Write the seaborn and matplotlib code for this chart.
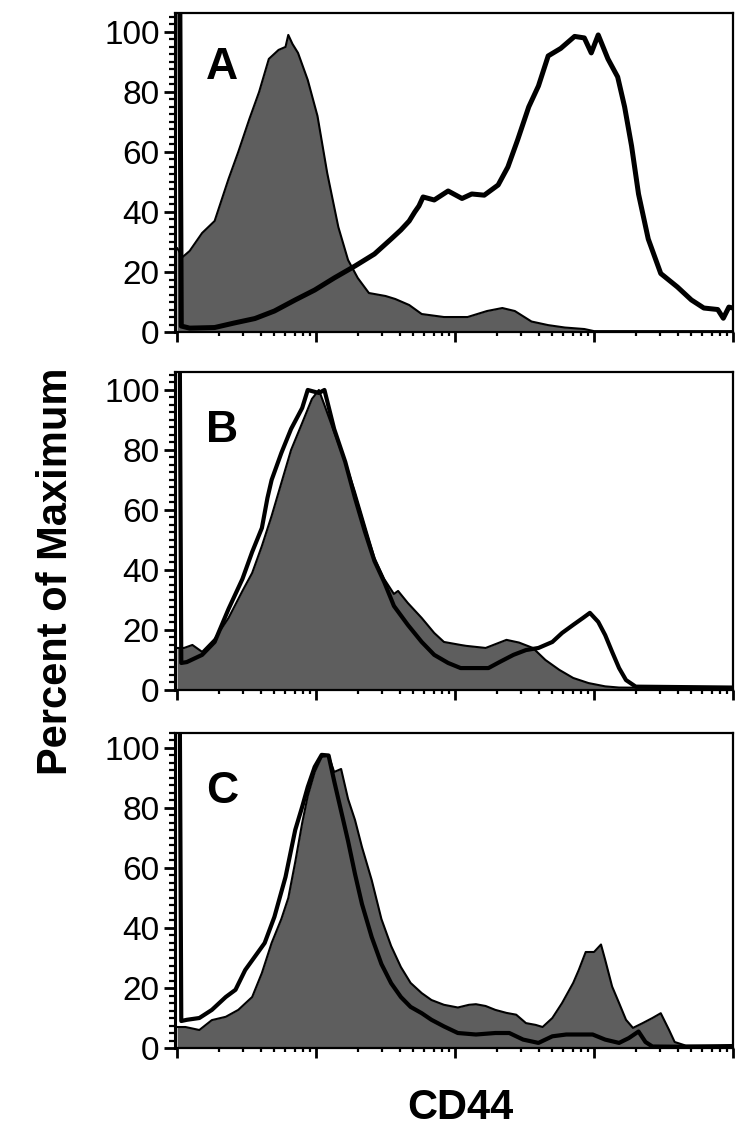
import matplotlib
matplotlib.use('Agg')
from matplotlib import pyplot as plt
from matplotlib.ticker import LogLocator, NullFormatter, MultipleLocator
import numpy as np
import seaborn as sns

# ----- data (x in log10 decades, y in % of max) -----

# panel A
a_fill_pos = [0.00, 0.04, 0.09, 0.18, 0.27, 0.32, 0.37, 0.44, 0.52, 0.59, 0.66, 0.73, 0.78, 0.80, 0.83, 0.87,
              0.94, 1.01, 1.08, 1.16, 1.23, 1.30, 1.38, 1.50, 1.57, 1.67, 1.76, 1.92, 2.09, 2.23, 2.34, 2.43,
              2.55, 2.67, 2.79, 2.93, 3.00, 4.00]
a_fill_val = [28, 25, 27, 33, 37, 44, 51, 60, 71, 80, 91, 94, 95, 99, 96, 93,
              84, 72, 53, 35, 24, 18, 13, 12, 11, 9, 6, 5, 5, 7, 8, 7,
              3.5, 2.3, 1.5, 1, 0.3, 0.3]
a_line_pos = [0.02, 0.03, 0.09, 0.27, 0.41, 0.56, 0.70, 0.85, 0.99, 1.13, 1.28, 1.42, 1.54, 1.61, 1.67, 1.71,
              1.74, 1.77, 1.85, 1.95, 2.05, 2.12, 2.21, 2.31, 2.38, 2.45, 2.53, 2.60, 2.67, 2.76, 2.86, 2.93,
              2.98, 3.03, 3.10, 3.17, 3.22, 3.27, 3.32, 3.39, 3.48, 3.60, 3.70, 3.79, 3.89, 3.93, 3.97, 4.00]
a_line_val = [106, 2, 1.3, 1.5, 3, 4.5, 7, 10.7, 14, 18, 22, 26, 31, 34, 37, 40,
              42, 45, 44, 47, 44.5, 46, 45.6, 49, 55, 64, 75, 82, 92, 94.5, 98.5, 98,
              93, 99, 91, 85, 75, 62, 46, 31, 19.5, 15, 10.7, 8, 7.5, 4.6, 8.3, 8]

# panel B
b_fill_pos = [0.00, 0.05, 0.11, 0.18, 0.27, 0.37, 0.47, 0.54, 0.61, 0.68, 0.75, 0.82, 0.90, 0.97, 1.02, 1.06,
              1.13, 1.21, 1.28, 1.35, 1.42, 1.49, 1.56, 1.59, 1.66, 1.76, 1.85, 1.92, 2.04, 2.08, 2.22, 2.37,
              2.46, 2.56, 2.65, 2.75, 2.85, 2.96, 3.08, 3.18, 4.00]
b_fill_val = [14, 14, 15, 12.7, 17, 24, 33, 39, 48, 58, 69, 80, 89, 97, 100, 95,
              86, 76, 66, 55, 44, 37, 32, 33, 29, 24, 19, 16, 15, 14.7, 14, 16.7,
              15.8, 14, 10, 6.7, 4, 2.3, 1.2, 0.8, 0.5]
b_line_pos = [0.02, 0.03, 0.07, 0.18, 0.27, 0.37, 0.47, 0.54, 0.61, 0.65, 0.68, 0.75, 0.82, 0.90, 0.94, 1.02,
              1.06, 1.13, 1.21, 1.28, 1.35, 1.42, 1.49, 1.56, 1.66, 1.76, 1.85, 1.95, 2.04, 2.15, 2.24, 2.32,
              2.42, 2.51, 2.60, 2.70, 2.77, 2.85, 2.92, 2.97, 3.03, 3.08, 3.13, 3.18, 3.23, 3.30, 4.00]
b_line_val = [106, 9, 9.3, 11.7, 16, 27, 37, 46, 54, 64, 70, 79, 87, 94, 100, 99,
              100, 87, 76, 64, 53, 43, 36, 28, 21.7, 16, 11.7, 9, 7.3, 7.3, 7.3, 9.3,
              11.7, 13.3, 14, 16, 19, 21.7, 24, 25.7, 22.7, 18.3, 12.7, 7.3, 3.3, 1.1, 0.8]

# panel C
c_fill_pos = [0.00, 0.06, 0.16, 0.25, 0.35, 0.44, 0.54, 0.61, 0.68, 0.75, 0.80, 0.85, 0.90, 0.94, 0.99, 1.04,
              1.09, 1.13, 1.18, 1.23, 1.28, 1.33, 1.40, 1.47, 1.54, 1.61, 1.68, 1.76, 1.83, 1.92, 2.02, 2.10,
              2.15, 2.22, 2.29, 2.37, 2.44, 2.51, 2.58, 2.63, 2.70, 2.77, 2.85, 2.89, 2.94, 3.00, 3.05, 3.08,
              3.13, 3.18, 3.23, 3.28, 3.35, 3.42, 3.48, 3.54, 3.58, 3.66, 4.00]
c_fill_val = [7, 7, 6, 9.3, 10.4, 12.7, 17, 25, 35, 43, 50, 62, 75, 84, 92, 97,
              97.5, 92, 93, 83, 76, 67, 56, 43, 34, 27, 21.7, 18.3, 16, 14.4, 13.5, 14.4,
              14.6, 14, 12.7, 11.7, 11.1, 8.3, 7.7, 7, 10, 15, 21.7, 26, 32, 32, 34.5, 29.4,
              20.5, 15, 9.4, 6.7, 8.3, 10, 11.6, 6, 2, 0.8, 1]
c_line_pos = [0.02, 0.03, 0.07, 0.16, 0.25, 0.35, 0.42, 0.49, 0.56, 0.63, 0.70, 0.78, 0.85, 0.90, 0.94, 0.99,
              1.04, 1.09, 1.13, 1.18, 1.23, 1.28, 1.33, 1.40, 1.47, 1.54, 1.61, 1.68, 1.76, 1.83, 1.92, 2.02,
              2.15, 2.29, 2.39, 2.49, 2.60, 2.70, 2.80, 2.89, 2.99, 3.08, 3.18, 3.25, 3.32, 3.37, 3.42, 4.00]
c_line_val = [106, 9, 9.4, 10, 12.7, 17, 19.4, 26, 30.5, 35, 43.7, 57, 72.7, 80.4, 87, 93.7,
              97.7, 97.5, 89, 79, 69, 58, 48, 37, 28, 21.6, 17, 13.7, 11.6, 9.4, 7.2, 5,
              4.5, 5, 5, 2.8, 1.7, 3.9, 4.5, 4.5, 4.5, 2.8, 1.7, 3.3, 5.5, 2, 0.5, 0.3]

panel_letters = ['A', 'B', 'C']
y_ticks = [0, 20, 40, 60, 80, 100]

# **************************************************************************

sns.set_style('ticks')
plt.rcParams['font.family'] = ['Liberation Sans', 'DejaVu Sans']
plt.rcParams['text.color'] = 'black'
plt.rcParams['axes.edgecolor'] = 'black'
plt.rcParams['xtick.color'] = 'black'
plt.rcParams['ytick.color'] = 'black'

fig = plt.figure(figsize=(7.47, 11.41), dpi=100)

# axes rect, ymax, data, width of the open histogram line, height of the panel letter
panels = [
    ([0.2343, 0.7090, 0.7470, 0.2796], 106.3, a_fill_pos, a_fill_val, a_line_pos, a_line_val, 3.6, 0.83),
    ([0.2343, 0.3953, 0.7470, 0.2787], 106.0, b_fill_pos, b_fill_val, b_line_pos, b_line_val, 3.0, 0.815),
    ([0.2343, 0.0815, 0.7470, 0.2761], 105.0, c_fill_pos, c_fill_val, c_line_pos, c_line_val, 3.0, 0.815),
]

for i, (rect, ymax, fpos, fval, lpos, lval, lw, ly) in enumerate(panels):
    ax = fig.add_axes(rect)
    fx = 10 ** np.array(fpos)
    lx = 10 ** np.array(lpos)

    # shaded histogram with thin outline, open histogram as a thick black line on top
    ax.fill_between(fx, fval, 0, color='#5e5e5e', lw=0, zorder=1)
    sns.lineplot(x=fx, y=fval, color='black', lw=1.5, estimator=None, sort=False, ax=ax, zorder=2)
    sns.lineplot(x=lx, y=lval, color='black', lw=lw, estimator=None, sort=False, ax=ax, zorder=3)

    ax.set_xscale('log')
    ax.set_xlim(10 ** -0.015, 1e4)
    ax.set_ylim(0, ymax)
    ax.set_xlabel('')
    ax.set_ylabel('')

    ax.xaxis.set_major_locator(LogLocator(base=10))
    ax.xaxis.set_minor_locator(LogLocator(base=10, subs=range(2, 10)))
    ax.xaxis.set_major_formatter(NullFormatter())
    ax.xaxis.set_minor_formatter(NullFormatter())
    ax.set_yticks(y_ticks)
    ax.yaxis.set_minor_locator(MultipleLocator(2.5))

    ax.tick_params(axis='y', which='major', length=8, width=2, labelsize=24, pad=3, direction='out',
                   labelcolor='black')
    ax.tick_params(axis='y', which='minor', length=4, width=1.6, direction='out')
    ax.tick_params(axis='x', which='major', length=7, width=2, direction='out')
    ax.tick_params(axis='x', which='minor', length=3, width=1.6, direction='out')

    for side in ['top', 'right', 'bottom']:
        ax.spines[side].set_visible(True)
        ax.spines[side].set_linewidth(1.6)
    ax.spines['left'].set_linewidth(2.2)

    ax.text(0.085, ly, panel_letters[i], transform=ax.transAxes, fontsize=32,
            fontweight='bold', ha='center', va='center', color='black')

fig.text(0.075, 0.499, 'Percent of Maximum', rotation=90, fontsize=30, fontweight='bold',
         ha='center', va='center', color='black')
fig.text(0.616, 0.029, 'CD44', fontsize=30, fontweight='bold', ha='center', va='center', color='black')

plt.savefig('out.png', dpi=100)
